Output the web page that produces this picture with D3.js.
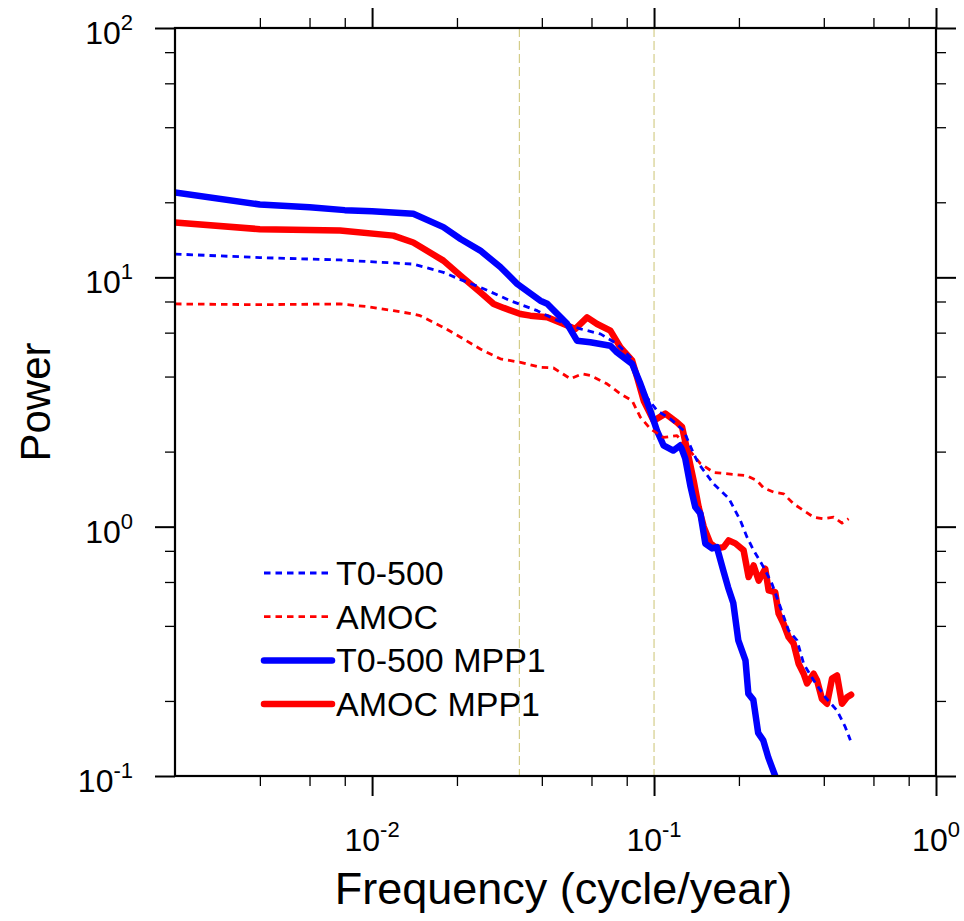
<!DOCTYPE html>
<html>
<head>
<meta charset="utf-8">
<script src="https://cdn.jsdelivr.net/npm/d3@7"></script>
<style>
  body { margin: 0; background: #fff; }
  svg  { display: block; }
</style>
</head>
<body>
<div id="chart"></div>
<script>
// Power spectra (log-log): T0-500 and AMOC, raw and MPP1 smoothed.
// Values as [frequency (cycle/yr), power].

const T0500 = [
  [0.002, 12.4], [0.004, 12.0], [0.0077, 11.74], [0.014, 11.3], [0.0179, 10.47],
  [0.0206, 9.79], [0.0242, 9.12], [0.0309, 8.06], [0.0385, 7.35], [0.0453, 6.71],
  [0.0548, 6.21], [0.0645, 5.93], [0.0739, 5.41], [0.0824, 4.78], [0.0894, 3.85],
  [0.0944, 3.30], [0.1025, 2.92], [0.1142, 2.71], [0.1274, 2.43], [0.1382, 1.96],
  [0.1439, 1.79], [0.163, 1.48], [0.184, 1.30], [0.2023, 1.06], [0.2137, 0.907],
  [0.2255, 0.804], [0.2447, 0.688], [0.262, 0.590], [0.2805, 0.476], [0.300, 0.384],
  [0.3215, 0.350], [0.3393, 0.282], [0.368, 0.242], [0.405, 0.207], [0.4457, 0.183],
  [0.477, 0.157], [0.497, 0.139]
];

const AMOC = [
  [0.002, 7.82], [0.004, 7.77], [0.0077, 7.82], [0.0096, 7.63], [0.0119, 7.35],
  [0.014, 7.13], [0.0148, 7.02], [0.0179, 6.30], [0.0206, 5.75], [0.0242, 5.16],
  [0.0285, 4.71], [0.0336, 4.56], [0.0395, 4.36], [0.044, 4.33], [0.0505, 3.92],
  [0.0555, 4.10], [0.0594, 4.04], [0.0681, 3.74], [0.076, 3.41], [0.0836, 3.20],
  [0.0894, 2.75], [0.097, 2.47], [0.108, 2.28], [0.1206, 2.32], [0.131, 2.08],
  [0.146, 1.79], [0.1627, 1.65], [0.1915, 1.62], [0.2137, 1.60], [0.2318, 1.53],
  [0.2447, 1.43], [0.2656, 1.375], [0.288, 1.355], [0.3126, 1.235], [0.3393, 1.161],
  [0.368, 1.092], [0.3995, 1.076], [0.4336, 1.092], [0.464, 1.034], [0.49, 1.076]
];

const T0500_MPP1 = [
  [0.002, 21.9], [0.004, 19.6], [0.006, 19.1], [0.008, 18.6], [0.010, 18.4],
  [0.014, 18.0], [0.0179, 15.9], [0.0206, 14.25], [0.0242, 12.8], [0.0285, 11.0],
  [0.0327, 9.41], [0.0395, 8.06], [0.0418, 7.84], [0.0491, 6.52], [0.0533, 5.57],
  [0.0594, 5.49], [0.070, 5.32], [0.0739, 5.00], [0.0836, 4.50], [0.0894, 3.75],
  [0.097, 2.92], [0.1024, 2.43], [0.108, 2.12], [0.117, 2.02], [0.124, 2.12],
  [0.129, 1.88], [0.1345, 1.46], [0.140, 1.20], [0.146, 1.13], [0.152, 0.856],
  [0.1606, 0.818], [0.167, 0.828], [0.176, 0.668], [0.183, 0.572], [0.191, 0.494],
  [0.199, 0.350], [0.211, 0.291], [0.216, 0.214], [0.225, 0.202], [0.234, 0.149],
  [0.244, 0.139], [0.254, 0.119], [0.269, 0.100], [0.28, 0.088]
];

const AMOC_MPP1 = [
  [0.002, 16.6], [0.004, 15.6], [0.0077, 15.4], [0.0119, 14.7], [0.014, 13.8],
  [0.0179, 11.67], [0.0206, 10.16], [0.0242, 8.71], [0.027, 7.82], [0.0293, 7.54],
  [0.0336, 7.13], [0.0364, 7.02], [0.0418, 6.91], [0.0478, 6.50], [0.0526, 6.21],
  [0.0579, 6.91], [0.0628, 6.50], [0.070, 6.11], [0.076, 5.24], [0.0836, 4.64],
  [0.0871, 3.97], [0.0919, 3.20], [0.0997, 2.66], [0.1097, 2.84], [0.1206, 2.62],
  [0.1257, 2.51], [0.1327, 1.90], [0.1382, 1.53], [0.1439, 1.20], [0.150, 1.00],
  [0.1584, 0.857], [0.1673, 0.819], [0.1765, 0.828], [0.1839, 0.881], [0.1943, 0.857],
  [0.2078, 0.804], [0.2165, 0.628], [0.2255, 0.699], [0.235, 0.608], [0.248, 0.678],
  [0.255, 0.555], [0.269, 0.546], [0.2766, 0.448], [0.288, 0.408], [0.300, 0.361],
  [0.3126, 0.340], [0.3257, 0.282], [0.3393, 0.257], [0.3488, 0.235], [0.368, 0.257],
  [0.3785, 0.242], [0.394, 0.204], [0.4107, 0.195], [0.4278, 0.246], [0.4457, 0.253],
  [0.464, 0.195], [0.4835, 0.207], [0.5, 0.212]
];

// reference periods: 30 yr and 10 yr
const REF_FREQS = [0.0333, 0.1];

const X_MAJOR = [0.01, 0.1, 1];
const X_MINOR = [0.004, 0.006, 0.008, 0.02, 0.04, 0.06, 0.08, 0.2, 0.4, 0.6, 0.8];
const X_EXP   = ["-2", "-1", "0"];
const Y_MAJOR = [0.1, 1, 10, 100];
const Y_MINOR = [0.2, 0.4, 0.6, 0.8, 2, 4, 6, 8, 20, 40, 60, 80];
const Y_EXP   = ["-1", "0", "1", "2"];

const SERIES = [
  { name: "T0-500",      data: T0500,      color: "#0000ff", width: 2.8, dash: "6.5,5" },
  { name: "AMOC",        data: AMOC,       color: "#ff0000", width: 2.8, dash: "6.5,5" },
  { name: "T0-500 MPP1", data: T0500_MPP1, color: "#0000ff", width: 6.5, dash: null },
  { name: "AMOC MPP1",   data: AMOC_MPP1,  color: "#ff0000", width: 6.5, dash: null },
];
const DRAW_ORDER = [3, 2, 1, 0];

const FONT = "'Liberation Sans', Arial, Helvetica, sans-serif";

// ── Layout ──────────────────────────────────────────────────────────────────

const W = 964, H = 921;
const plot = { left: 175, right: 936, top: 28, bottom: 776 };

const svg = d3.select("#chart").append("svg")
  .attr("width", W)
  .attr("height", H)
  .style("font-family", FONT);

const x = d3.scaleLog().domain([0.002, 1]).range([plot.left, plot.right]);
const y = d3.scaleLog().domain([0.1, 100]).range([plot.bottom, plot.top]);

svg.append("defs").append("clipPath").attr("id", "clip")
  .append("rect")
    .attr("x", plot.left).attr("y", plot.top)
    .attr("width", plot.right - plot.left)
    .attr("height", plot.bottom - plot.top);

// ── Reference lines ─────────────────────────────────────────────────────────

svg.append("g")
  .selectAll("line")
  .data(REF_FREQS)
  .join("line")
    .attr("x1", d => x(d)).attr("x2", d => x(d))
    .attr("y1", plot.top).attr("y2", plot.bottom)
    .attr("stroke", "#d4cd8a")
    .attr("stroke-width", 1.2)
    .attr("stroke-dasharray", "9,4");

// ── Curves ──────────────────────────────────────────────────────────────────

const line = d3.line()
  .x(d => x(d[0]))
  .y(d => y(d[1]));

const curves = svg.append("g").attr("clip-path", "url(#clip)");
DRAW_ORDER.forEach(i => {
  const s = SERIES[i];
  curves.append("path")
    .datum(s.data)
    .attr("d", line)
    .attr("fill", "none")
    .attr("stroke", s.color)
    .attr("stroke-width", s.width)
    .attr("stroke-linejoin", "round")
    .attr("stroke-linecap", s.dash ? "butt" : "round")
    .attr("stroke-dasharray", s.dash);
});

// ── Frame and ticks (outward, NCL style) ────────────────────────────────────

function ticks(axis, scale, values, size, width, transform) {
  svg.append("g")
    .attr("transform", transform)
    .call(axis(scale).tickValues(values).tickSize(size).tickFormat(""))
    .call(g => g.select(".domain").remove())
    .selectAll(".tick line")
      .attr("stroke", "#000")
      .attr("stroke-width", width);
}

[[X_MAJOR, 20, 2], [X_MINOR, 10, 1.3]].forEach(([vals, size, w]) => {
  ticks(d3.axisBottom, x, vals, size, w, `translate(0,${plot.bottom})`);
  ticks(d3.axisTop,    x, vals, size, w, `translate(0,${plot.top})`);
});
[[Y_MAJOR, 20, 2], [Y_MINOR, 10, 1.3]].forEach(([vals, size, w]) => {
  ticks(d3.axisLeft,  y, vals, size, w, `translate(${plot.left},0)`);
  ticks(d3.axisRight, y, vals, size, w, `translate(${plot.right},0)`);
});

svg.append("rect")
  .attr("x", plot.left).attr("y", plot.top)
  .attr("width", plot.right - plot.left)
  .attr("height", plot.bottom - plot.top)
  .attr("fill", "none")
  .attr("stroke", "#000")
  .attr("stroke-width", 2.2);

// ── Tick labels (10 with superscript exponent) ──────────────────────────────

function powLabel(sel, exp) {
  sel.append("tspan").text("10");
  sel.append("tspan")
    .attr("dy", -14)
    .style("font-size", "22px")
    .text(exp);
}

X_MAJOR.forEach((v, i) => {
  svg.append("text")
    .attr("x", x(v))
    .attr("y", plot.bottom + 75)
    .attr("text-anchor", "middle")
    .style("font-size", "32px")
    .call(powLabel, X_EXP[i]);
});

Y_MAJOR.forEach((v, i) => {
  svg.append("text")
    .attr("x", plot.left - 42)
    .attr("y", y(v) + 16)
    .attr("text-anchor", "end")
    .style("font-size", "32px")
    .call(powLabel, Y_EXP[i]);
});

// ── Axis titles ─────────────────────────────────────────────────────────────

svg.append("text")
  .attr("x", (plot.left + plot.right) / 2 + 8)
  .attr("y", 904)
  .attr("text-anchor", "middle")
  .style("font-size", "45px")
  .text("Frequency (cycle/year)");

svg.append("text")
  .attr("transform", `translate(50,${(plot.top + plot.bottom) / 2}) rotate(-90)`)
  .attr("text-anchor", "middle")
  .style("font-size", "42px")
  .text("Power");

// ── Legend ──────────────────────────────────────────────────────────────────

const legend = svg.append("g").attr("transform", "translate(264,573)");
SERIES.forEach((s, i) => {
  const row = legend.append("g").attr("transform", `translate(0,${i * 43.7})`);
  row.append("line")
    .attr("x1", 0).attr("x2", s.dash ? 65 : 68)
    .attr("stroke", s.color)
    .attr("stroke-width", s.width)
    .attr("stroke-linecap", s.dash ? "butt" : "round")
    .attr("stroke-dasharray", s.dash);
  row.append("text")
    .attr("x", 72)
    .attr("y", 12)
    .style("font-size", "34px")
    .text(s.name);
});
</script>
</body>
</html>
